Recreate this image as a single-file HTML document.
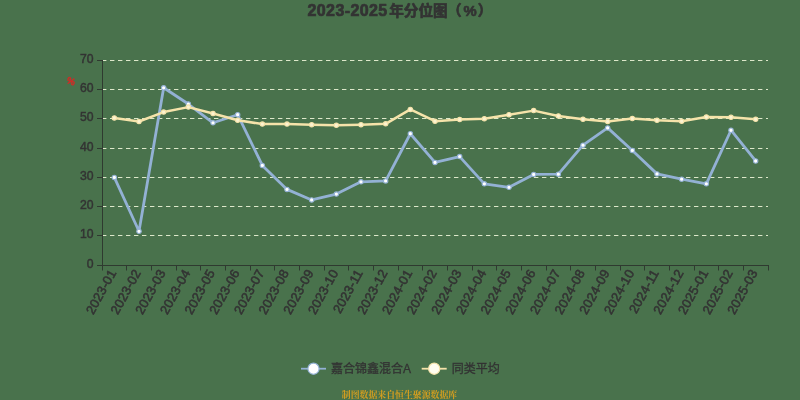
<!DOCTYPE html>
<html lang="zh-CN"><head><meta charset="utf-8"><title>2023-2025年分位图（%）</title>
<style>
html,body{margin:0;padding:0;background:#49724c;}
body{width:800px;height:400px;overflow:hidden;font-family:"Liberation Sans", "Noto Sans CJK SC", sans-serif;}
svg{display:block}
svg text{font-family:"Liberation Sans", "Noto Sans CJK SC", sans-serif;}
svg text.ft{font-family:"Liberation Serif","Noto Serif CJK SC",serif;}
</style></head><body>
<svg width="800" height="400" viewBox="0 0 800 400">
<rect x="0" y="0" width="800" height="400" fill="#49724c"/>

<text y="16.3" font-weight="bold" fill="#333333" stroke="#333333" stroke-width="0.7" stroke-linejoin="round"><tspan x="307.5" font-size="16" letter-spacing="0.4">2023-2025</tspan><tspan x="389.2" font-size="14.6">年分位图</tspan><tspan x="447" font-size="14.6">（</tspan><tspan x="463.4" font-size="14.8">%</tspan><tspan x="477.8" font-size="14.6">）</tspan></text>
<line x1="102.0" y1="235.50" x2="768.0" y2="235.50" stroke="#dde8ca" stroke-width="1" stroke-dasharray="4.4 3.6" />
<line x1="102.0" y1="206.50" x2="768.0" y2="206.50" stroke="#dde8ca" stroke-width="1" stroke-dasharray="4.4 3.6" />
<line x1="102.0" y1="177.50" x2="768.0" y2="177.50" stroke="#dde8ca" stroke-width="1" stroke-dasharray="4.4 3.6" />
<line x1="102.0" y1="148.50" x2="768.0" y2="148.50" stroke="#dde8ca" stroke-width="1" stroke-dasharray="4.4 3.6" />
<line x1="102.0" y1="118.50" x2="768.0" y2="118.50" stroke="#dde8ca" stroke-width="1" stroke-dasharray="4.4 3.6" />
<line x1="102.0" y1="89.50" x2="768.0" y2="89.50" stroke="#dde8ca" stroke-width="1" stroke-dasharray="4.4 3.6" />
<line x1="102.0" y1="60.50" x2="768.0" y2="60.50" stroke="#dde8ca" stroke-width="1" stroke-dasharray="4.4 3.6" />
<line x1="102.5" y1="60" x2="102.5" y2="266" stroke="#2f3a30" stroke-width="1"/>
<line x1="102.0" y1="265.5" x2="769.0" y2="265.5" stroke="#2f3a30" stroke-width="1"/>
<line x1="97.0" y1="265.50" x2="102.0" y2="265.50" stroke="#2f3a30" stroke-width="1"/>
<text x="93.6" y="267.90" text-anchor="end" font-size="12.2" fill="#333333" stroke="#333333" stroke-width="0.45">0</text>
<line x1="97.0" y1="235.50" x2="102.0" y2="235.50" stroke="#2f3a30" stroke-width="1"/>
<text x="93.6" y="237.90" text-anchor="end" font-size="12.2" fill="#333333" stroke="#333333" stroke-width="0.45">10</text>
<line x1="97.0" y1="206.50" x2="102.0" y2="206.50" stroke="#2f3a30" stroke-width="1"/>
<text x="93.6" y="208.90" text-anchor="end" font-size="12.2" fill="#333333" stroke="#333333" stroke-width="0.45">20</text>
<line x1="97.0" y1="177.50" x2="102.0" y2="177.50" stroke="#2f3a30" stroke-width="1"/>
<text x="93.6" y="179.90" text-anchor="end" font-size="12.2" fill="#333333" stroke="#333333" stroke-width="0.45">30</text>
<line x1="97.0" y1="148.50" x2="102.0" y2="148.50" stroke="#2f3a30" stroke-width="1"/>
<text x="93.6" y="150.90" text-anchor="end" font-size="12.2" fill="#333333" stroke="#333333" stroke-width="0.45">40</text>
<line x1="97.0" y1="118.50" x2="102.0" y2="118.50" stroke="#2f3a30" stroke-width="1"/>
<text x="93.6" y="120.90" text-anchor="end" font-size="12.2" fill="#333333" stroke="#333333" stroke-width="0.45">50</text>
<line x1="97.0" y1="89.50" x2="102.0" y2="89.50" stroke="#2f3a30" stroke-width="1"/>
<text x="93.6" y="91.90" text-anchor="end" font-size="12.2" fill="#333333" stroke="#333333" stroke-width="0.45">60</text>
<line x1="97.0" y1="60.50" x2="102.0" y2="60.50" stroke="#2f3a30" stroke-width="1"/>
<text x="93.6" y="62.90" text-anchor="end" font-size="12.2" fill="#333333" stroke="#333333" stroke-width="0.45">70</text>
<line x1="102.50" y1="265" x2="102.50" y2="270.5" stroke="#2f3a30" stroke-width="1"/>
<line x1="126.50" y1="265" x2="126.50" y2="270.5" stroke="#2f3a30" stroke-width="1"/>
<line x1="151.50" y1="265" x2="151.50" y2="270.5" stroke="#2f3a30" stroke-width="1"/>
<line x1="176.50" y1="265" x2="176.50" y2="270.5" stroke="#2f3a30" stroke-width="1"/>
<line x1="200.50" y1="265" x2="200.50" y2="270.5" stroke="#2f3a30" stroke-width="1"/>
<line x1="225.50" y1="265" x2="225.50" y2="270.5" stroke="#2f3a30" stroke-width="1"/>
<line x1="250.50" y1="265" x2="250.50" y2="270.5" stroke="#2f3a30" stroke-width="1"/>
<line x1="274.50" y1="265" x2="274.50" y2="270.5" stroke="#2f3a30" stroke-width="1"/>
<line x1="299.50" y1="265" x2="299.50" y2="270.5" stroke="#2f3a30" stroke-width="1"/>
<line x1="324.50" y1="265" x2="324.50" y2="270.5" stroke="#2f3a30" stroke-width="1"/>
<line x1="348.50" y1="265" x2="348.50" y2="270.5" stroke="#2f3a30" stroke-width="1"/>
<line x1="373.50" y1="265" x2="373.50" y2="270.5" stroke="#2f3a30" stroke-width="1"/>
<line x1="398.50" y1="265" x2="398.50" y2="270.5" stroke="#2f3a30" stroke-width="1"/>
<line x1="422.50" y1="265" x2="422.50" y2="270.5" stroke="#2f3a30" stroke-width="1"/>
<line x1="447.50" y1="265" x2="447.50" y2="270.5" stroke="#2f3a30" stroke-width="1"/>
<line x1="472.50" y1="265" x2="472.50" y2="270.5" stroke="#2f3a30" stroke-width="1"/>
<line x1="496.50" y1="265" x2="496.50" y2="270.5" stroke="#2f3a30" stroke-width="1"/>
<line x1="521.50" y1="265" x2="521.50" y2="270.5" stroke="#2f3a30" stroke-width="1"/>
<line x1="546.50" y1="265" x2="546.50" y2="270.5" stroke="#2f3a30" stroke-width="1"/>
<line x1="570.50" y1="265" x2="570.50" y2="270.5" stroke="#2f3a30" stroke-width="1"/>
<line x1="595.50" y1="265" x2="595.50" y2="270.5" stroke="#2f3a30" stroke-width="1"/>
<line x1="620.50" y1="265" x2="620.50" y2="270.5" stroke="#2f3a30" stroke-width="1"/>
<line x1="644.50" y1="265" x2="644.50" y2="270.5" stroke="#2f3a30" stroke-width="1"/>
<line x1="669.50" y1="265" x2="669.50" y2="270.5" stroke="#2f3a30" stroke-width="1"/>
<line x1="694.50" y1="265" x2="694.50" y2="270.5" stroke="#2f3a30" stroke-width="1"/>
<line x1="718.50" y1="265" x2="718.50" y2="270.5" stroke="#2f3a30" stroke-width="1"/>
<line x1="743.50" y1="265" x2="743.50" y2="270.5" stroke="#2f3a30" stroke-width="1"/>
<line x1="768.50" y1="265" x2="768.50" y2="270.5" stroke="#2f3a30" stroke-width="1"/>
<text transform="translate(112.83,270.35) rotate(-61)" x="0" y="4.5" text-anchor="end" font-size="12.9" letter-spacing="0.2" stroke="#333333" stroke-width="0.55" fill="#333333">2023-01</text>
<text transform="translate(137.50,270.35) rotate(-61)" x="0" y="4.5" text-anchor="end" font-size="12.9" letter-spacing="0.2" stroke="#333333" stroke-width="0.55" fill="#333333">2023-02</text>
<text transform="translate(162.17,270.35) rotate(-61)" x="0" y="4.5" text-anchor="end" font-size="12.9" letter-spacing="0.2" stroke="#333333" stroke-width="0.55" fill="#333333">2023-03</text>
<text transform="translate(186.83,270.35) rotate(-61)" x="0" y="4.5" text-anchor="end" font-size="12.9" letter-spacing="0.2" stroke="#333333" stroke-width="0.55" fill="#333333">2023-04</text>
<text transform="translate(211.50,270.35) rotate(-61)" x="0" y="4.5" text-anchor="end" font-size="12.9" letter-spacing="0.2" stroke="#333333" stroke-width="0.55" fill="#333333">2023-05</text>
<text transform="translate(236.17,270.35) rotate(-61)" x="0" y="4.5" text-anchor="end" font-size="12.9" letter-spacing="0.2" stroke="#333333" stroke-width="0.55" fill="#333333">2023-06</text>
<text transform="translate(260.83,270.35) rotate(-61)" x="0" y="4.5" text-anchor="end" font-size="12.9" letter-spacing="0.2" stroke="#333333" stroke-width="0.55" fill="#333333">2023-07</text>
<text transform="translate(285.50,270.35) rotate(-61)" x="0" y="4.5" text-anchor="end" font-size="12.9" letter-spacing="0.2" stroke="#333333" stroke-width="0.55" fill="#333333">2023-08</text>
<text transform="translate(310.17,270.35) rotate(-61)" x="0" y="4.5" text-anchor="end" font-size="12.9" letter-spacing="0.2" stroke="#333333" stroke-width="0.55" fill="#333333">2023-09</text>
<text transform="translate(334.83,270.35) rotate(-61)" x="0" y="4.5" text-anchor="end" font-size="12.9" letter-spacing="0.2" stroke="#333333" stroke-width="0.55" fill="#333333">2023-10</text>
<text transform="translate(359.50,270.35) rotate(-61)" x="0" y="4.5" text-anchor="end" font-size="12.9" letter-spacing="0.2" stroke="#333333" stroke-width="0.55" fill="#333333">2023-11</text>
<text transform="translate(384.17,270.35) rotate(-61)" x="0" y="4.5" text-anchor="end" font-size="12.9" letter-spacing="0.2" stroke="#333333" stroke-width="0.55" fill="#333333">2023-12</text>
<text transform="translate(408.83,270.35) rotate(-61)" x="0" y="4.5" text-anchor="end" font-size="12.9" letter-spacing="0.2" stroke="#333333" stroke-width="0.55" fill="#333333">2024-01</text>
<text transform="translate(433.50,270.35) rotate(-61)" x="0" y="4.5" text-anchor="end" font-size="12.9" letter-spacing="0.2" stroke="#333333" stroke-width="0.55" fill="#333333">2024-02</text>
<text transform="translate(458.17,270.35) rotate(-61)" x="0" y="4.5" text-anchor="end" font-size="12.9" letter-spacing="0.2" stroke="#333333" stroke-width="0.55" fill="#333333">2024-03</text>
<text transform="translate(482.83,270.35) rotate(-61)" x="0" y="4.5" text-anchor="end" font-size="12.9" letter-spacing="0.2" stroke="#333333" stroke-width="0.55" fill="#333333">2024-04</text>
<text transform="translate(507.50,270.35) rotate(-61)" x="0" y="4.5" text-anchor="end" font-size="12.9" letter-spacing="0.2" stroke="#333333" stroke-width="0.55" fill="#333333">2024-05</text>
<text transform="translate(532.17,270.35) rotate(-61)" x="0" y="4.5" text-anchor="end" font-size="12.9" letter-spacing="0.2" stroke="#333333" stroke-width="0.55" fill="#333333">2024-06</text>
<text transform="translate(556.83,270.35) rotate(-61)" x="0" y="4.5" text-anchor="end" font-size="12.9" letter-spacing="0.2" stroke="#333333" stroke-width="0.55" fill="#333333">2024-07</text>
<text transform="translate(581.50,270.35) rotate(-61)" x="0" y="4.5" text-anchor="end" font-size="12.9" letter-spacing="0.2" stroke="#333333" stroke-width="0.55" fill="#333333">2024-08</text>
<text transform="translate(606.17,270.35) rotate(-61)" x="0" y="4.5" text-anchor="end" font-size="12.9" letter-spacing="0.2" stroke="#333333" stroke-width="0.55" fill="#333333">2024-09</text>
<text transform="translate(630.83,270.35) rotate(-61)" x="0" y="4.5" text-anchor="end" font-size="12.9" letter-spacing="0.2" stroke="#333333" stroke-width="0.55" fill="#333333">2024-10</text>
<text transform="translate(655.50,270.35) rotate(-61)" x="0" y="4.5" text-anchor="end" font-size="12.9" letter-spacing="0.2" stroke="#333333" stroke-width="0.55" fill="#333333">2024-11</text>
<text transform="translate(680.17,270.35) rotate(-61)" x="0" y="4.5" text-anchor="end" font-size="12.9" letter-spacing="0.2" stroke="#333333" stroke-width="0.55" fill="#333333">2024-12</text>
<text transform="translate(704.83,270.35) rotate(-61)" x="0" y="4.5" text-anchor="end" font-size="12.9" letter-spacing="0.2" stroke="#333333" stroke-width="0.55" fill="#333333">2025-01</text>
<text transform="translate(729.50,270.35) rotate(-61)" x="0" y="4.5" text-anchor="end" font-size="12.9" letter-spacing="0.2" stroke="#333333" stroke-width="0.55" fill="#333333">2025-02</text>
<text transform="translate(754.17,270.35) rotate(-61)" x="0" y="4.5" text-anchor="end" font-size="12.9" letter-spacing="0.2" stroke="#333333" stroke-width="0.55" fill="#333333">2025-03</text>
<text transform="translate(71.1,81) rotate(20)" x="0" y="3.3" text-anchor="middle" font-size="9.5" font-weight="bold" fill="#cf2d27" stroke="#cf2d27" stroke-width="0.4">%</text>
<polyline points="114.33,177.39 139.00,231.28 163.67,87.78 188.33,104.03 213.00,122.78 237.67,114.72 262.33,165.39 287.00,189.40 311.67,199.94 336.33,194.09 361.00,181.79 385.67,180.91 410.33,133.76 435.00,162.46 459.67,156.60 484.33,183.84 509.00,187.35 533.67,174.46 558.33,174.17 583.00,145.18 607.67,127.90 632.33,150.45 657.00,173.88 681.67,179.15 706.33,183.84 731.00,130.24 755.67,160.99" fill="none" stroke="#93b1d4" stroke-width="2.8" stroke-linejoin="round" stroke-linecap="round"/>
<circle cx="114.33" cy="177.39" r="2.2" fill="#ffffff" stroke="#93b1d4" stroke-width="1.1"/>
<circle cx="139.00" cy="231.28" r="2.2" fill="#ffffff" stroke="#93b1d4" stroke-width="1.1"/>
<circle cx="163.67" cy="87.78" r="2.2" fill="#ffffff" stroke="#93b1d4" stroke-width="1.1"/>
<circle cx="188.33" cy="104.03" r="2.2" fill="#ffffff" stroke="#93b1d4" stroke-width="1.1"/>
<circle cx="213.00" cy="122.78" r="2.2" fill="#ffffff" stroke="#93b1d4" stroke-width="1.1"/>
<circle cx="237.67" cy="114.72" r="2.2" fill="#ffffff" stroke="#93b1d4" stroke-width="1.1"/>
<circle cx="262.33" cy="165.39" r="2.2" fill="#ffffff" stroke="#93b1d4" stroke-width="1.1"/>
<circle cx="287.00" cy="189.40" r="2.2" fill="#ffffff" stroke="#93b1d4" stroke-width="1.1"/>
<circle cx="311.67" cy="199.94" r="2.2" fill="#ffffff" stroke="#93b1d4" stroke-width="1.1"/>
<circle cx="336.33" cy="194.09" r="2.2" fill="#ffffff" stroke="#93b1d4" stroke-width="1.1"/>
<circle cx="361.00" cy="181.79" r="2.2" fill="#ffffff" stroke="#93b1d4" stroke-width="1.1"/>
<circle cx="385.67" cy="180.91" r="2.2" fill="#ffffff" stroke="#93b1d4" stroke-width="1.1"/>
<circle cx="410.33" cy="133.76" r="2.2" fill="#ffffff" stroke="#93b1d4" stroke-width="1.1"/>
<circle cx="435.00" cy="162.46" r="2.2" fill="#ffffff" stroke="#93b1d4" stroke-width="1.1"/>
<circle cx="459.67" cy="156.60" r="2.2" fill="#ffffff" stroke="#93b1d4" stroke-width="1.1"/>
<circle cx="484.33" cy="183.84" r="2.2" fill="#ffffff" stroke="#93b1d4" stroke-width="1.1"/>
<circle cx="509.00" cy="187.35" r="2.2" fill="#ffffff" stroke="#93b1d4" stroke-width="1.1"/>
<circle cx="533.67" cy="174.46" r="2.2" fill="#ffffff" stroke="#93b1d4" stroke-width="1.1"/>
<circle cx="558.33" cy="174.17" r="2.2" fill="#ffffff" stroke="#93b1d4" stroke-width="1.1"/>
<circle cx="583.00" cy="145.18" r="2.2" fill="#ffffff" stroke="#93b1d4" stroke-width="1.1"/>
<circle cx="607.67" cy="127.90" r="2.2" fill="#ffffff" stroke="#93b1d4" stroke-width="1.1"/>
<circle cx="632.33" cy="150.45" r="2.2" fill="#ffffff" stroke="#93b1d4" stroke-width="1.1"/>
<circle cx="657.00" cy="173.88" r="2.2" fill="#ffffff" stroke="#93b1d4" stroke-width="1.1"/>
<circle cx="681.67" cy="179.15" r="2.2" fill="#ffffff" stroke="#93b1d4" stroke-width="1.1"/>
<circle cx="706.33" cy="183.84" r="2.2" fill="#ffffff" stroke="#93b1d4" stroke-width="1.1"/>
<circle cx="731.00" cy="130.24" r="2.2" fill="#ffffff" stroke="#93b1d4" stroke-width="1.1"/>
<circle cx="755.67" cy="160.99" r="2.2" fill="#ffffff" stroke="#93b1d4" stroke-width="1.1"/>
<polyline points="114.33,117.94 139.00,121.46 163.67,112.09 188.33,107.11 213.00,113.55 237.67,120.29 262.33,124.09 287.00,124.09 311.67,124.68 336.33,125.26 361.00,124.68 385.67,123.80 410.33,109.45 435.00,121.16 459.67,119.55 484.33,118.82 509.00,114.72 533.67,110.62 558.33,116.04 583.00,119.26 607.67,121.46 632.33,118.53 657.00,120.29 681.67,121.16 706.33,117.06 731.00,117.36 755.67,119.26" fill="none" stroke="#f5e3aa" stroke-width="2.5" stroke-linejoin="round" stroke-linecap="round"/>
<circle cx="114.33" cy="117.94" r="2.2" fill="#fcf3d2" stroke="#f5e3aa" stroke-width="1.1"/>
<circle cx="139.00" cy="121.46" r="2.2" fill="#fcf3d2" stroke="#f5e3aa" stroke-width="1.1"/>
<circle cx="163.67" cy="112.09" r="2.2" fill="#fcf3d2" stroke="#f5e3aa" stroke-width="1.1"/>
<circle cx="188.33" cy="107.11" r="2.2" fill="#fcf3d2" stroke="#f5e3aa" stroke-width="1.1"/>
<circle cx="213.00" cy="113.55" r="2.2" fill="#fcf3d2" stroke="#f5e3aa" stroke-width="1.1"/>
<circle cx="237.67" cy="120.29" r="2.2" fill="#fcf3d2" stroke="#f5e3aa" stroke-width="1.1"/>
<circle cx="262.33" cy="124.09" r="2.2" fill="#fcf3d2" stroke="#f5e3aa" stroke-width="1.1"/>
<circle cx="287.00" cy="124.09" r="2.2" fill="#fcf3d2" stroke="#f5e3aa" stroke-width="1.1"/>
<circle cx="311.67" cy="124.68" r="2.2" fill="#fcf3d2" stroke="#f5e3aa" stroke-width="1.1"/>
<circle cx="336.33" cy="125.26" r="2.2" fill="#fcf3d2" stroke="#f5e3aa" stroke-width="1.1"/>
<circle cx="361.00" cy="124.68" r="2.2" fill="#fcf3d2" stroke="#f5e3aa" stroke-width="1.1"/>
<circle cx="385.67" cy="123.80" r="2.2" fill="#fcf3d2" stroke="#f5e3aa" stroke-width="1.1"/>
<circle cx="410.33" cy="109.45" r="2.2" fill="#fcf3d2" stroke="#f5e3aa" stroke-width="1.1"/>
<circle cx="435.00" cy="121.16" r="2.2" fill="#fcf3d2" stroke="#f5e3aa" stroke-width="1.1"/>
<circle cx="459.67" cy="119.55" r="2.2" fill="#fcf3d2" stroke="#f5e3aa" stroke-width="1.1"/>
<circle cx="484.33" cy="118.82" r="2.2" fill="#fcf3d2" stroke="#f5e3aa" stroke-width="1.1"/>
<circle cx="509.00" cy="114.72" r="2.2" fill="#fcf3d2" stroke="#f5e3aa" stroke-width="1.1"/>
<circle cx="533.67" cy="110.62" r="2.2" fill="#fcf3d2" stroke="#f5e3aa" stroke-width="1.1"/>
<circle cx="558.33" cy="116.04" r="2.2" fill="#fcf3d2" stroke="#f5e3aa" stroke-width="1.1"/>
<circle cx="583.00" cy="119.26" r="2.2" fill="#fcf3d2" stroke="#f5e3aa" stroke-width="1.1"/>
<circle cx="607.67" cy="121.46" r="2.2" fill="#fcf3d2" stroke="#f5e3aa" stroke-width="1.1"/>
<circle cx="632.33" cy="118.53" r="2.2" fill="#fcf3d2" stroke="#f5e3aa" stroke-width="1.1"/>
<circle cx="657.00" cy="120.29" r="2.2" fill="#fcf3d2" stroke="#f5e3aa" stroke-width="1.1"/>
<circle cx="681.67" cy="121.16" r="2.2" fill="#fcf3d2" stroke="#f5e3aa" stroke-width="1.1"/>
<circle cx="706.33" cy="117.06" r="2.2" fill="#fcf3d2" stroke="#f5e3aa" stroke-width="1.1"/>
<circle cx="731.00" cy="117.36" r="2.2" fill="#fcf3d2" stroke="#f5e3aa" stroke-width="1.1"/>
<circle cx="755.67" cy="119.26" r="2.2" fill="#fcf3d2" stroke="#f5e3aa" stroke-width="1.1"/>
<line x1="301" y1="368.7" x2="326" y2="368.7" stroke="#93b1d4" stroke-width="1.8"/>
<circle cx="313.5" cy="368.7" r="5.6" fill="#ffffff" stroke="#93b1d4" stroke-width="1.2"/>
<text x="331" y="372.59999999999997" font-size="12" fill="#333333" stroke="#333333" stroke-width="0.3">嘉合锦鑫混合A</text>
<line x1="421.7" y1="368.7" x2="446.7" y2="368.7" stroke="#f5e3aa" stroke-width="1.8"/>
<circle cx="434.2" cy="368.7" r="5.6" fill="#fffdf0" stroke="#f5e3aa" stroke-width="1.2"/>
<text x="451.7" y="372.59999999999997" font-size="12" fill="#333333" stroke="#333333" stroke-width="0.3">同类平均</text>
<text x="399.5" y="398.4" text-anchor="middle" font-size="8.9" font-weight="bold" fill="#d69f1f" class="ft">制图数据来自恒生聚源数据库</text>
</svg></body></html>
